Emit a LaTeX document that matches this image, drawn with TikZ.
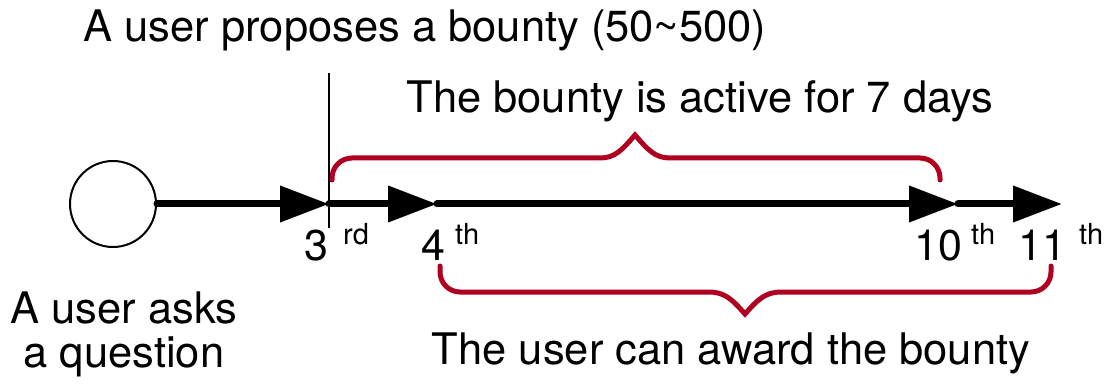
\documentclass[tikz,border=0pt]{standalone}
\usepackage{fontspec}
\setmainfont{TeX Gyre Heros}
\usetikzlibrary{arrows.meta}
\definecolor{bountyred}{RGB}{176,0,32}

\begin{document}
\begin{tikzpicture}[x=1pt,y=-1pt,
		timeline/.style={line width=7pt,line cap=round,-{Triangle[length=49pt,width=35pt]}},
		brace/.style={bountyred,line width=5pt,line cap=round},
		label/.style={font=\fontsize{43.5}{44}\selectfont,inner sep=0pt},
		daylabel/.style={font=\fontsize{43}{44}\selectfont,inner sep=0pt},
		suffix/.style={font=\fontsize{29}{30}\selectfont,inner sep=0pt}]
		\useasboundingbox (0,0) rectangle (1114,390);
		% question and the days on the timeline
		\node[circle,draw,line width=2pt,minimum size=86pt,inner sep=0pt] (q) at (113,204) {};
		\coordinate (d3) at (329,204);
		\coordinate (d4) at (437,204);
		\coordinate (d10) at (958,204);
		\coordinate (d11) at (1062,204);
		\draw[line width=1.5pt] ([yshift=131pt]d3) -- ([yshift=-24pt]d3);
		\draw[timeline] (q.east) -- (d3);
		\draw[timeline] (d3) -- (d4);
		\draw[timeline] (d4) -- (d10);
		\draw[timeline] (d10) -- (d11);
		% day numbers
		\node[daylabel,anchor=base] (n3) at (316,261) {3};
		\node[suffix,anchor=base west] (s3) at (343,245) {rd};
		\node[daylabel,anchor=base] (n4) at (433,261) {4};
		\node[suffix,anchor=base west] (s4) at (455,245) {th};
		\node[daylabel,anchor=base] (n10) at (938,261) {10};
		\node[suffix,anchor=base west] (s10) at (971,245) {th};
		\node[daylabel,anchor=base] (n11) at (1042,261) {11};
		\node[suffix,anchor=base west] (s11) at (1079,245) {th};
		% texts
		\node[label,anchor=base] (propose) at (425,42) {A user proposes a bounty (50\textasciitilde500)};
		\node[label,anchor=base] (active) at (700,113) {The bounty is active for 7 days};
		\node[label,anchor=base] (award) at (731,364) {The user can award the bounty};
		\node[label,align=center,anchor=base] (ask) at (124,367) {A user asks\\a question};
		% braces
		\draw[brace] (332,180) -- (332,178) .. controls (332,167) and (341,158) .. (352,158) -- (600,158)
			.. controls (615,158) and (622,150) .. (635,135) .. controls (648,150) and (655,158) .. (670,158)
			-- (920,158) .. controls (931,158) and (940,167) .. (940,178) -- (940,180);
		\draw[brace] (440,266) -- (440,272) .. controls (440,283) and (449,292) .. (460,292) -- (708,292)
			.. controls (724,292) and (731,298) .. (745,314) .. controls (759,298) and (766,292) .. (782,292)
			-- (1031,292) .. controls (1042,292) and (1051,283) .. (1051,272) -- (1051,266);
	\end{tikzpicture}
\end{document}
